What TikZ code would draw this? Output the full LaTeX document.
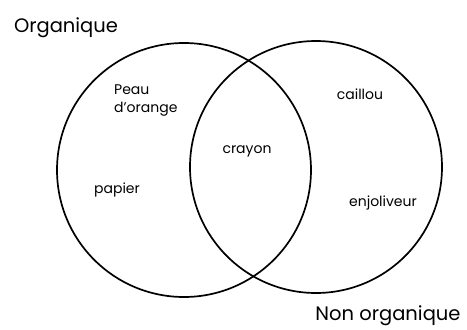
\documentclass[tikz,border=0pt]{standalone}
\usepackage{fontspec}
\setmainfont{Poppins}
\begin{document}
\begin{tikzpicture}[x=1pt,y=-1pt,
  setcircle/.style={circle,draw=black,line width=1.7pt,inner sep=0pt},
  item/.style={font=\fontsize{14}{18}\selectfont,inner sep=0pt,align=left},
  title/.style={font=\fontsize{19.5}{22}\selectfont,inner sep=0pt}]
\useasboundingbox (0,0) rectangle (467,330);
\node[setcircle,minimum size=254pt] (L) at (184,170) {};
\node[setcircle,minimum size=252pt] (R) at (316,167) {};
\node[title] (org) at (66,28) {Organique};
\node[title] (nonorg) at (388,316) {Non organique};
\node[item,anchor=west] (peau) at (114,101) {Peau\\d'orange};
\node[item] (crayon) at (247,151) {crayon};
\node[item] (caillou) at (360,94) {caillou};
\node[item] (papier) at (117,190) {papier};
\node[item] (enjo) at (383,203) {enjoliveur};
\end{tikzpicture}
\end{document}
